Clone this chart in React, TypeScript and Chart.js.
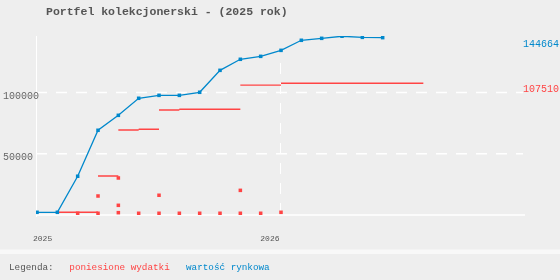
import React, { useEffect, useRef } from "react";
import { Chart, registerables } from "chart.js";

Chart.register(...registerables);

// ---- data ----
const chartTitle = "Portfel kolekcjonerski - (2025 rok)";
const legendTitle = "Legenda:";
const expenseLabel = "poniesione wydatki";
const marketLabel = "wartość rynkowa";

// month index 0 = Jan 2025
const marketMonths = [0, 1, 2, 3, 4, 5, 6, 7, 8, 9, 10, 11, 12, 13, 14, 15, 16, 17];
const marketValues = [
  2200, 2200, 31600, 69100, 81300, 95200, 97600, 97600, 100100, 118000, 127000, 129400,
  134300, 142500, 144100, 145800, 144900, 144664,
];

// cumulative expenses drawn as horizontal steps
const expenseStepStart = [1, 3, 4, 5, 6, 7, 10, 12];
const expenseStepEnd = [3, 4, 5, 6, 7, 10, 12, 19];
const expenseStepValue = [2200, 31800, 69300, 69900, 85600, 86200, 105900, 107510];

// single expenses
const expenseMonths = [2, 3, 3, 4, 4, 4, 5, 6, 6, 7, 8, 9, 10, 10, 11, 12];
const expenseValues = [
  1400, 1400, 15500, 1900, 7900, 30200, 1400, 1400, 16100, 1400, 1400, 1400, 1400, 20100, 1400, 2200,
];

const yGridValues = [50000, 100000];
const yTickLabels = ["50000", "100000"];
const xTickMonths = [0, 12];
const xTickLabels = ["2025", "2026"];
const lastMarketValue = 144664;
const lastExpenseValue = 107510;

const BLUE = "#0088cc";
const RED = "#ff4444";
const GRAY = "#555555";
const MONO = '"Liberation Mono", "DejaVu Sans Mono", monospace';

export default function App() {
  const ref = useRef<HTMLCanvasElement | null>(null);

  useEffect(() => {
    if (!ref.current) return;

    const stepData: { x: number; y: number | null }[] = [];
    expenseStepStart.forEach((s, i) => {
      stepData.push({ x: s, y: expenseStepValue[i] });
      stepData.push({ x: expenseStepEnd[i], y: expenseStepValue[i] });
      stepData.push({ x: expenseStepEnd[i], y: null });
    });

    const decor = {
      id: "decor",
      beforeDraw(chart: any) {
        const { ctx, chartArea } = chart;
        const xs = chart.scales.x;
        const ys = chart.scales.y;
        ctx.save();
        ctx.fillStyle = "#eeeeee";
        ctx.fillRect(0, 0, chart.width, chart.height);
        ctx.fillStyle = "#f8f8f8";
        ctx.fillRect(0, 249.5, chart.width, 4.5);

        ctx.strokeStyle = "#ffffff";
        // dashed horizontal grid
        ctx.lineWidth = 1.5;
        ctx.setLineDash([11, 9]);
        yGridValues.forEach((v) => {
          const y = ys.getPixelForValue(v);
          ctx.beginPath();
          ctx.moveTo(chartArea.left, y);
          ctx.lineTo(chartArea.right - 2, y);
          ctx.stroke();
        });
        // dashed vertical grid at 2026
        const vx = Math.round(xs.getPixelForValue(xTickMonths[1])) - 0.5;
        ctx.lineWidth = 1;
        ctx.beginPath();
        ctx.moveTo(vx, chartArea.top + 27);
        ctx.lineTo(vx, chartArea.bottom + 2);
        ctx.stroke();
        ctx.setLineDash([]);
        // baseline
        ctx.lineWidth = 1.5;
        const y0 = ys.getPixelForValue(0);
        ctx.beginPath();
        ctx.moveTo(chartArea.left, y0);
        ctx.lineTo(chartArea.right, y0);
        ctx.stroke();
        // y axis
        ctx.lineWidth = 1;
        ctx.beginPath();
        ctx.moveTo(chartArea.left + 0.5, chartArea.top);
        ctx.lineTo(chartArea.left + 0.5, chartArea.bottom + 2);
        ctx.stroke();
        ctx.restore();
      },
      afterDraw(chart: any) {
        const { ctx } = chart;
        const xs = chart.scales.x;
        const ys = chart.scales.y;
        ctx.save();
        ctx.textBaseline = "middle";
        // title
        ctx.fillStyle = GRAY;
        ctx.font = `bold 11.5px ${MONO}`;
        ctx.textAlign = "left";
        ctx.fillText(chartTitle, 46, 12);
        // y tick labels
        ctx.font = `10px ${MONO}`;
        ctx.fillStyle = "#666666";
        yGridValues.forEach((v, i) => {
          ctx.fillText(yTickLabels[i], 3, ys.getPixelForValue(v) + 3.7);
        });
        // right value labels
        ctx.fillStyle = BLUE;
        ctx.fillText(String(lastMarketValue), 523, ys.getPixelForValue(lastMarketValue) + 6.3);
        ctx.fillStyle = RED;
        ctx.fillText(String(lastExpenseValue), 523, ys.getPixelForValue(lastExpenseValue) + 6.2);
        // x tick labels
        ctx.font = `8px ${MONO}`;
        ctx.fillStyle = GRAY;
        ctx.textAlign = "left";
        ctx.fillText(xTickLabels[0], xs.getPixelForValue(xTickMonths[0]) - 4, 239);
        ctx.textAlign = "right";
        ctx.fillText(xTickLabels[1], xs.getPixelForValue(xTickMonths[1]) - 1.5, 239);
        // legend
        ctx.textAlign = "left";
        ctx.font = `9.3px ${MONO}`;
        ctx.fillStyle = GRAY;
        ctx.fillText(legendTitle, 9, 267.5);
        ctx.fillStyle = RED;
        ctx.fillText(expenseLabel, 69.3, 267.5);
        ctx.fillStyle = BLUE;
        ctx.fillText(marketLabel, 186, 267.5);
        ctx.restore();
      },
    };

    const chart = new Chart(ref.current, {
      type: "line",
      data: {
        datasets: [
          {
            label: marketLabel,
            data: marketMonths.map((m, i) => ({ x: m, y: marketValues[i] })),
            borderColor: BLUE,
            backgroundColor: BLUE,
            borderWidth: 1.3,
            pointStyle: "rect",
            pointRadius: 2.5,
            pointBorderWidth: 0,
            tension: 0,
          },
          {
            label: expenseLabel,
            data: stepData,
            borderColor: RED,
            backgroundColor: RED,
            borderWidth: 1.4,
            pointRadius: 0,
            spanGaps: false,
          },
          {
            label: expenseLabel + " (pojedyncze)",
            data: expenseMonths.map((m, i) => ({ x: m, y: expenseValues[i] })),
            showLine: false,
            borderColor: RED,
            backgroundColor: RED,
            pointStyle: "rect",
            pointRadius: 2.5,
            pointBorderWidth: 0,
          },
        ],
      },
      options: {
        animation: false,
        responsive: false,
        devicePixelRatio: 1,
        parsing: true,
        layout: { padding: { left: 36, top: 36, right: 35, bottom: 65 } },
        plugins: { legend: { display: false }, title: { display: false }, tooltip: { enabled: false } },
        scales: {
          x: { type: "linear", min: -0.05, max: 24, display: false },
          y: { type: "linear", min: 0, max: 146000, display: false },
        },
      },
      plugins: [decor],
    });

    return () => chart.destroy();
  }, []);

  return (
    <div style={{ position: "fixed", left: 0, top: 0, width: 560, height: 280 }}>
      <canvas ref={ref} width={560} height={280} style={{ display: "block", width: 560, height: 280 }} />
    </div>
  );
}
